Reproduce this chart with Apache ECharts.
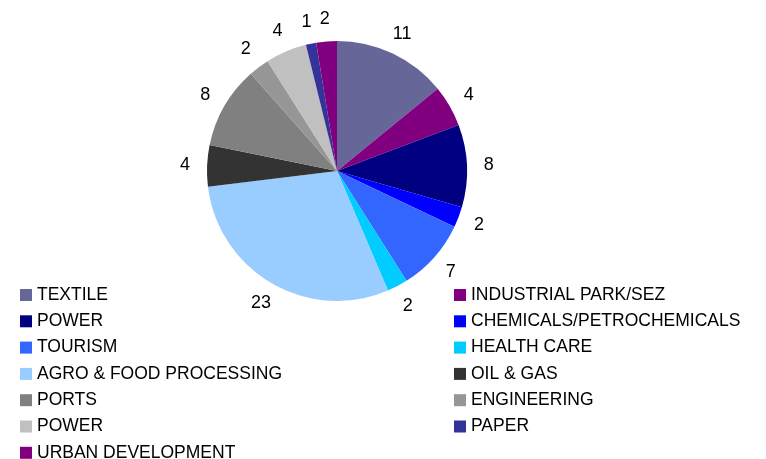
<!DOCTYPE html>
<html>
<head>
<meta charset="utf-8">
<script src="https://cdn.jsdelivr.net/npm/echarts@6/dist/echarts.min.js"></script>
<style>
  html, body { margin: 0; padding: 0; background: #fff; }
  #chart { width: 766px; height: 459px; }
</style>
</head>
<body>
<div id="chart"></div>
<script>
// sectors, clockwise from 12 o'clock
// the second POWER carries a trailing space so the legend can tell the two apart
const categories = [
  'TEXTILE', 'INDUSTRIAL PARK/SEZ', 'POWER', 'CHEMICALS/PETROCHEMICALS', 'TOURISM',
  'HEALTH CARE', 'AGRO & FOOD PROCESSING', 'OIL & GAS', 'PORTS', 'ENGINEERING',
  'POWER ', 'PAPER', 'URBAN DEVELOPMENT'
]
const values = [11, 4, 8, 2, 7, 2, 23, 4, 8, 2, 4, 1, 2]
const colors = [
  '#666699', '#800080', '#000080', '#0000ff', '#3366ff',
  '#00ccff', '#99ccff', '#333333', '#808080', '#969696',
  '#c0c0c0', '#333399', '#800080'
]
const legendLeft = ['TEXTILE', 'POWER', 'TOURISM', 'AGRO & FOOD PROCESSING', 'PORTS', 'POWER ', 'URBAN DEVELOPMENT']
const legendRight = ['INDUSTRIAL PARK/SEZ', 'CHEMICALS/PETROCHEMICALS', 'HEALTH CARE', 'OIL & GAS', 'ENGINEERING', 'PAPER']

const font = '"Liberation Sans", Arial, sans-serif'
const pieData = categories.map((name, i) => ({ name: name, value: values[i], itemStyle: { color: colors[i] } }))

const chart = echarts.init(document.getElementById('chart'))
const legendBase = {
  orient: 'vertical',
  top: 286,
  height: 200,
  padding: 0,
  icon: 'rect',
  itemWidth: 12,
  itemHeight: 12,
  itemGap: 8.3,
  selectedMode: false,
  textStyle: { fontFamily: font, fontSize: 17.5, color: '#000' }
}
chart.setOption({
  backgroundColor: '#fff',
  animation: false,
  title: {
    text: '(SECTOR-WISE PROJECTS)',
    left: 234,
    top: -24,
    textStyle: { fontFamily: font, fontSize: 19, fontWeight: 'bold', color: '#000' }
  },
  legend: [
    Object.assign({}, legendBase, { left: 20, data: legendLeft }),
    Object.assign({}, legendBase, { left: 454, data: legendRight })
  ],
  series: [{
    type: 'pie',
    center: [337, 171],
    radius: 130,
    startAngle: 90,
    clockwise: true,
    label: { show: false },
    labelLine: { show: false },
    emphasis: { disabled: true },
    data: pieData
  }, {
    // transparent ring that only carries the value labels
    type: 'pie',
    center: [337, 171],
    radius: [142, 156],
    startAngle: 90,
    silent: true,
    itemStyle: { color: 'rgba(0,0,0,0)' },
    label: {
      show: true,
      position: 'inside',
      formatter: '{c}',
      fontFamily: font,
      fontSize: 18,
      color: '#000'
    },
    labelLine: { show: false },
    emphasis: { disabled: true },
    data: categories.map((name, i) => ({ name: name, value: values[i] }))
  }]
})
</script>
</body>
</html>
